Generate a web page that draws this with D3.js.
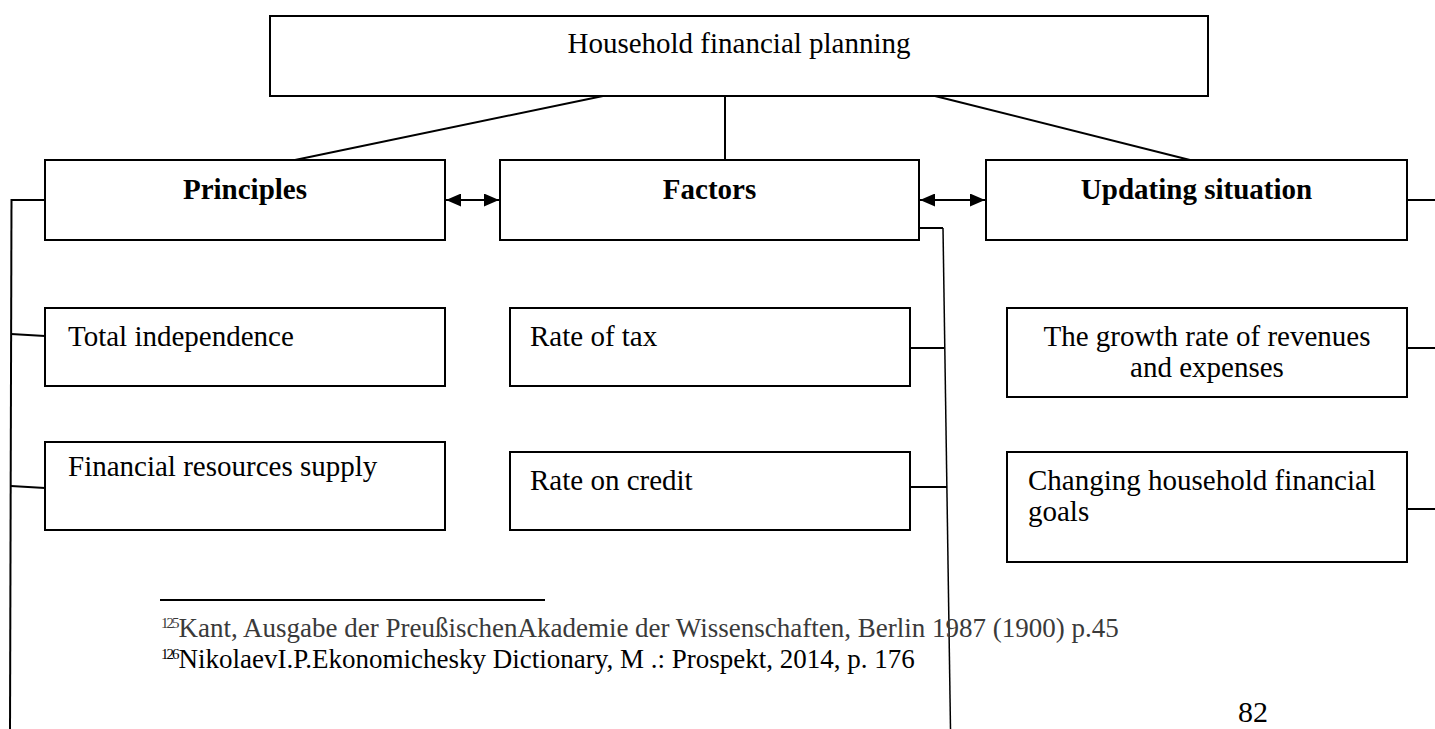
<!DOCTYPE html>
<html>
<head>
<meta charset="utf-8">
<script src="https://cdn.jsdelivr.net/npm/d3@7"></script>
<style>
  body { margin: 0; background: #fff; }
  svg { display: block; }
  text { font-family: "Liberation Serif", "Times New Roman", serif; fill: #000; }
</style>
</head>
<body>
<svg width="1435" height="729"></svg>
<script>
let title = "Household financial planning";
let categories = ["Principles", "Factors", "Updating situation"];
let principles = [["Total independence"], ["Financial resources supply"]];
let factors = [["Rate of tax"], ["Rate on credit"]];
let updating = [
  ["The growth rate of revenues", "and expenses"],
  ["Changing household financial", "goals"]
];
let footnoteNumbers = ["125", "126"];
let footnotes = [
  "Kant, Ausgabe der PreußischenAkademie der Wissenschaften, Berlin 1987 (1900) p.45",
  "NikolaevI.P.Ekonomichesky Dictionary, M .: Prospekt, 2014, p. 176"
];
let pageNumber = "82";

// layout (pixel geometry of the page)
let titleBox = { x: 270, y: 16, w: 938, h: 80 };
let headerBoxes = [
  { x: 45, y: 160, w: 400, h: 80 },
  { x: 500, y: 160, w: 419, h: 80 },
  { x: 986, y: 160, w: 421, h: 80 }
];
let itemBoxes = [
  [{ x: 45, y: 308, w: 400, h: 78, tx: 68, ty: 346, anchor: "start" },
   { x: 45, y: 442, w: 400, h: 88, tx: 68, ty: 476, anchor: "start" }],
  [{ x: 510, y: 308, w: 400, h: 78, tx: 530, ty: 346, anchor: "start" },
   { x: 510, y: 452, w: 400, h: 78, tx: 530, ty: 490, anchor: "start" }],
  [{ x: 1007, y: 308, w: 400, h: 89, tx: 1207, ty: 346, anchor: "middle" },
   { x: 1007, y: 452, w: 400, h: 110, tx: 1028, ty: 490, anchor: "start" }]
];
let lineGap = 31;

let svg = d3.select("svg");

svg.append("defs")
  .selectAll("marker")
  .data(["head"])
  .enter()
  .append("marker")
  .attr("id", d => d)
  .attr("viewBox", "0 0 15 13")
  .attr("markerUnits", "userSpaceOnUse")
  .attr("markerWidth", 15)
  .attr("markerHeight", 13)
  .attr("refX", 15)
  .attr("refY", 6.5)
  .attr("orient", "auto-start-reverse")
  .append("path")
  .attr("d", "M0 0 L15 6.5 L0 13 Z")
  .attr("fill", "#000");

let lines = svg.append("g").attr("stroke", "#000").attr("fill", "none");

let line = (x1, y1, x2, y2, w) =>
  lines.append("line")
    .attr("x1", x1).attr("y1", y1)
    .attr("x2", x2).attr("y2", y2)
    .attr("stroke-width", w || 2);

// title to headers
line(603, 96, 295, 160);
line(725, 96, 725, 160);
line(935, 96, 1190, 160);

// left spine (principles)
line(11.5, 199, 10, 729);
line(11.5, 200, 45, 200);
line(11, 334, 45, 336);
line(11, 486, 45, 488);

// factors spine
line(919, 228, 943, 228);
line(943, 228, 950.5, 729, 1.5);
line(910, 348, 944, 348);
line(910, 487, 947, 487);

// right side
line(1407, 200, 1435, 200);
line(1407, 348, 1435, 348);
line(1407, 509, 1435, 509);

// double arrows between headers
[[445, 500], [919, 986]].forEach(([a, b]) => {
  lines.append("line")
    .attr("x1", a + 1).attr("y1", 200)
    .attr("x2", b - 1).attr("y2", 200)
    .attr("stroke-width", 2)
    .attr("marker-start", "url(#head)")
    .attr("marker-end", "url(#head)");
});

let boxes = svg.append("g");

let drawBox = b =>
  boxes.append("rect")
    .attr("x", b.x).attr("y", b.y)
    .attr("width", b.w).attr("height", b.h)
    .attr("fill", "#fff")
    .attr("stroke", "#000")
    .attr("stroke-width", 2);

drawBox(titleBox);
boxes.append("text")
  .attr("x", titleBox.x + titleBox.w / 2)
  .attr("y", 53)
  .attr("text-anchor", "middle")
  .attr("font-size", 29)
  .text(title);

headerBoxes.forEach((b, i) => {
  drawBox(b);
  boxes.append("text")
    .attr("x", b.x + b.w / 2)
    .attr("y", 199)
    .attr("text-anchor", "middle")
    .attr("font-size", 29)
    .attr("font-weight", "bold")
    .text(categories[i]);
});

[principles, factors, updating].forEach((items, c) => {
  items.forEach((lbl, r) => {
    let b = itemBoxes[c][r];
    drawBox(b);
    let t = boxes.append("text")
      .attr("text-anchor", b.anchor)
      .attr("font-size", 29);
    lbl.forEach((s, k) => {
      t.append("tspan")
        .attr("x", b.tx)
        .attr("y", b.ty + k * lineGap)
        .text(s);
    });
  });
});

// footnotes
let notes = svg.append("g");
notes.append("line")
  .attr("x1", 160).attr("y1", 600)
  .attr("x2", 545).attr("y2", 600)
  .attr("stroke", "#000")
  .attr("stroke-width", 2);

let noteColors = ["#3a3a3a", "#000"];
footnotes.forEach((f, i) => {
  let t = notes.append("text")
    .attr("x", 161)
    .attr("y", 637 + i * 31)
    .attr("font-size", 27)
    .style("fill", noteColors[i]);
  t.append("tspan")
    .attr("font-size", 15)
    .attr("dy", -9)
    .attr("letter-spacing", -2)
    .text(footnoteNumbers[i]);
  t.append("tspan")
    .attr("dy", 9)
    .attr("dx", 1)
    .text(f);
});

notes.append("text")
  .attr("x", 1253)
  .attr("y", 722)
  .attr("text-anchor", "middle")
  .attr("font-size", 30)
  .text(pageNumber);
</script>
</body>
</html>
